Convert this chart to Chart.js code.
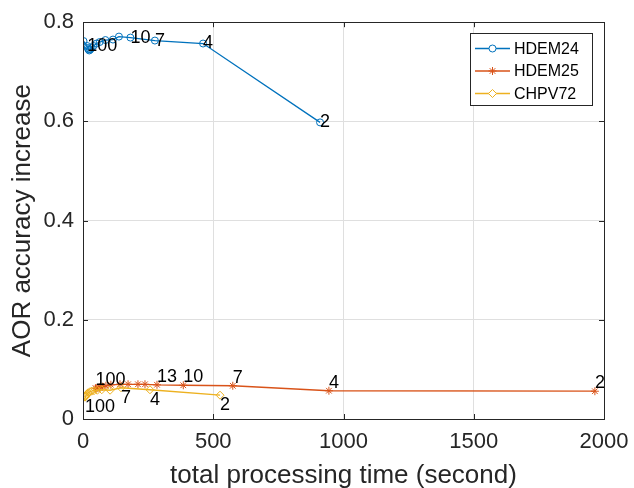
<!DOCTYPE html>
<html>
<head>
<meta charset="utf-8">
<script src="https://cdn.jsdelivr.net/npm/chart.js@4"></script>
<style>
  body { margin: 0; background: #fff; }
  #wrap { width: 634px; height: 488px; }
</style>
</head>
<body>
<div id="wrap"><canvas id="aorChart" width="634" height="488"></canvas></div>
<script>
// x ticks / y ticks
const xTicks = [0, 500, 1000, 1500, 2000];
const yTicks = [0, 0.2, 0.4, 0.6, 0.8];

// HDEM24
const time24 = [910, 461, 276, 182, 138, 115, 86, 64, 52, 40, 33, 28, 24, 21, 18, 16, 2];
const acc24 = [0.598, 0.757, 0.763, 0.769, 0.771, 0.765, 0.764, 0.760, 0.757, 0.752, 0.748, 0.745, 0.743, 0.745, 0.748, 0.752, 0.762];
const labels24 = ["2", "4", "7", "10", "", "", "", "", "", "", "", "", "", "", "", "100", ""];

// HDEM25
const time25 = [1965, 944, 575, 385, 284, 238, 211, 173, 142, 107, 88, 75, 65, 58, 53, 48];
const acc25 = [0.056, 0.057, 0.067, 0.068, 0.069, 0.070, 0.070, 0.070, 0.070, 0.069, 0.067, 0.065, 0.064, 0.063, 0.062, 0.062];
const labels25 = ["2", "4", "7", "10", "13", "", "", "", "", "", "", "", "", "", "", "100"];

// CHPV72
const time72 = [526, 257, 146, 104, 72, 55, 42, 33, 27, 20, 16, 13, 11, 10, 9, 8];
const acc72 = [0.048, 0.059, 0.063, 0.058, 0.059, 0.058, 0.057, 0.056, 0.055, 0.053, 0.051, 0.049, 0.047, 0.046, 0.045, 0.044];
const labels72 = ["2", "4", "7", "", "", "", "", "", "", "", "", "", "", "", "", "100"];

const BLUE = "rgb(0,114,189)";
const ORANGE = "rgb(217,83,25)";
const YELLOW = "rgb(237,177,32)";
const AXIS = "#262626";
const FONT = "'Liberation Sans', Arial, Helvetica, sans-serif";

function toPoints(xs, ys) {
  return xs.map((x, i) => ({ x: x, y: ys[i] }));
}

function series(label, xs, ys, color, style, radius, order, texts, dy) {
  return {
    label,
    data: toPoints(xs, ys),
    borderColor: color,
    backgroundColor: "rgba(0,0,0,0)",
    borderWidth: 1.3,
    pointStyle: style,
    pointRadius: radius,
    pointBorderColor: color,
    pointBackgroundColor: "rgba(0,0,0,0)",
    pointBorderWidth: 1,
    showLine: true,
    tension: 0,
    order,
    pointTexts: texts,
    textDy: dy,
  };
}

// box, inner ticks, point labels, legend
const matlabLook = {
  id: "matlabLook",
  afterDatasetsDraw(chart) {
    const ctx = chart.ctx;
    const a = chart.chartArea;
    const xs = chart.scales.x, ys = chart.scales.y;

    // point labels
    ctx.save();
    ctx.fillStyle = "#000";
    ctx.font = "18px " + FONT;
    ctx.textAlign = "left";
    ctx.textBaseline = "middle";
    chart.data.datasets.forEach((ds, i) => {
      const meta = chart.getDatasetMeta(i);
      meta.data.forEach((pt, j) => {
        const t = ds.pointTexts[j];
        if (t) ctx.fillText(t, pt.x, pt.y + ds.textDy);
      });
    });
    ctx.restore();

    // axes box + inward ticks
    ctx.save();
    ctx.strokeStyle = AXIS;
    ctx.lineWidth = 1;
    ctx.strokeRect(Math.round(a.left) + 0.5, Math.round(a.top) + 0.5,
      Math.round(a.right - a.left), Math.round(a.bottom - a.top));
    ctx.beginPath();
    xTicks.forEach((v) => {
      const px = Math.round(xs.getPixelForValue(v)) + 0.5;
      ctx.moveTo(px, a.bottom); ctx.lineTo(px, a.bottom - 5);
      ctx.moveTo(px, a.top); ctx.lineTo(px, a.top + 5);
    });
    yTicks.forEach((v) => {
      const py = Math.round(ys.getPixelForValue(v)) + 0.5;
      ctx.moveTo(a.left, py); ctx.lineTo(a.left + 5, py);
      ctx.moveTo(a.right, py); ctx.lineTo(a.right - 5, py);
    });
    ctx.stroke();
    ctx.restore();

    // legend
    const lx = 470, ly = 33, lw = 122, lh = 72;
    ctx.save();
    ctx.fillStyle = "#fff";
    ctx.fillRect(lx, ly, lw, lh);
    ctx.strokeStyle = AXIS;
    ctx.lineWidth = 1;
    ctx.strokeRect(lx + 0.5, ly + 0.5, lw, lh);
    ctx.font = "16px " + FONT;
    ctx.textBaseline = "middle";
    chart.data.datasets.forEach((ds, i) => {
      const y = ly + 15.5 + i * 22.5;
      ctx.strokeStyle = ds.borderColor;
      ctx.lineWidth = 1.3;
      ctx.beginPath();
      ctx.moveTo(475, y); ctx.lineTo(510, y);
      ctx.stroke();
      ctx.fillStyle = "#fff";
      ctx.lineWidth = 1;
      Chart.helpers.drawPoint(ctx, {
        pointStyle: ds.pointStyle, radius: ds.pointRadius, borderWidth: 1, rotation: 0,
      }, 492.5, y);
      ctx.fillStyle = "#000";
      ctx.fillText(ds.label, 514, y + 1);
    });
    ctx.restore();
  },
};

new Chart(document.getElementById("aorChart"), {
  type: "scatter",
  data: {
    datasets: [
      series("HDEM24", time24, acc24, BLUE, "circle", 3.5, 3, labels24, 0),
      series("HDEM25", time25, acc25, ORANGE, "star", 4, 2, labels25, -8),
      series("CHPV72", time72, acc72, YELLOW, "rectRot", 4, 1, labels72, 10),
    ],
  },
  options: {
    responsive: false,
    animation: false,
    layout: { padding: { left: 0, top: 19, right: 30, bottom: 0 } },
    plugins: { legend: { display: false }, tooltip: { enabled: false } },
    scales: {
      x: {
        type: "linear",
        min: 0,
        max: 2000,
        afterBuildTicks: (s) => { s.ticks = xTicks.map((v) => ({ value: v })); },
        afterFit: (s) => { s.height = 69; s.paddingLeft = 0; s.paddingRight = 0; },
        grid: { color: "#dfdfdf", drawTicks: false },
        border: { display: false },
        ticks: {
          color: AXIS, font: { family: FONT, size: 22 }, padding: 10,
          callback: (v) => String(v),
        },
        title: {
          display: true,
          text: "total processing time (second)",
          color: AXIS,
          font: { family: FONT, size: 26 },
          padding: { top: 0, bottom: -3 },
        },
      },
      y: {
        type: "linear",
        min: 0,
        max: 0.8,
        afterBuildTicks: (s) => { s.ticks = yTicks.map((v) => ({ value: v })); },
        afterFit: (s) => { s.width = 83; },
        grid: { color: "#dfdfdf", drawTicks: false },
        border: { display: false },
        ticks: {
          color: AXIS, font: { family: FONT, size: 22 }, padding: 9,
          callback: (v) => String(Math.round(v * 10) / 10),
        },
        title: {
          display: true,
          text: "AOR accuracy increase",
          color: AXIS,
          font: { family: FONT, size: 26 },
          padding: { top: 7, bottom: 0 },
        },
      },
    },
  },
  plugins: [matlabLook],
});
</script>
</body>
</html>
